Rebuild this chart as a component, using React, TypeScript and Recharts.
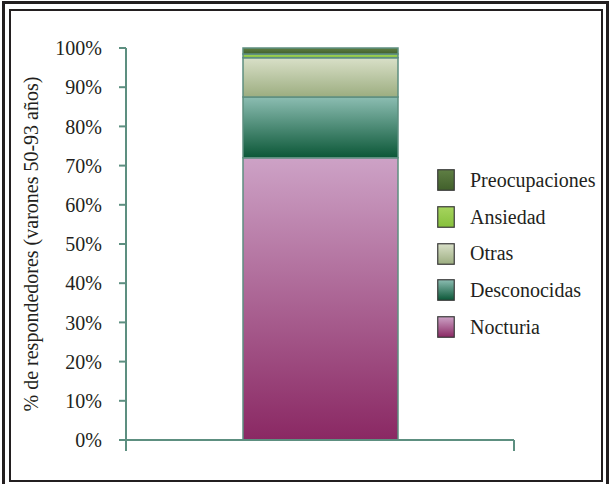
import { BarChart, Bar, XAxis, YAxis, Legend } from 'recharts'

const categories = ['Varones 50-93 años']
const nocturia = [72]
const desconocidas = [15.5]
const otras = [10]
const ansiedad = [1]
const preocupaciones = [1.5]
const yTicks = [0, 10, 20, 30, 40, 50, 60, 70, 80, 90, 100]
const yLabel = '% de respondedores (varones 50-93 años)'

const series = [
  { key: 'Nocturia', values: nocturia, top: '#cda2c6', bottom: '#8a2863' },
  { key: 'Desconocidas', values: desconocidas, top: '#8cbdb2', bottom: '#0b5737' },
  { key: 'Otras', values: otras, top: '#d9e0c8', bottom: '#9cad80' },
  { key: 'Ansiedad', values: ansiedad, top: '#a6d45e', bottom: '#86c03c' },
  { key: 'Preocupaciones', values: preocupaciones, top: '#5f7f44', bottom: '#41602b' },
]

// one slot per category on a numeric axis, so ticks sit on the slot edges (Excel style)
const data = categories.map((name, i) => {
  const row: Record<string, string | number> = { name, pos: i + 0.5 }
  series.forEach(s => { row[s.key] = s.values[i] })
  return row
})
const xEdges = [...categories.map((_, i) => i), categories.length]

const FONT = '"Liberation Serif", "Times New Roman", serif'
const INK = '#231f20'
const AXIS = '#5d8f80'
const gid = (k: string) => 'grad-' + k

function LegendBox() {
  const items = [...series].reverse()
  return (
    <div style={{ fontFamily: FONT, fontSize: 20, color: INK }}>
      {items.map(s => (
        <div key={s.key} style={{ display: 'flex', alignItems: 'center', height: 36.7 }}>
          <svg width={18} height={22} style={{ marginRight: 15 }}>
            <rect x={0.75} y={0.75} width={16.5} height={20.5} fill={`url(#${gid(s.key)})`} stroke="#3a3a3a" strokeWidth={1.2} />
          </svg>
          <span>{s.key}</span>
        </div>
      ))}
    </div>
  )
}

function YLabel({ viewBox }: any) {
  const x = viewBox.x + 38
  const y = viewBox.y + viewBox.height / 2
  return (
    <text x={x} y={y} transform={`rotate(-90, ${x}, ${y})`} textAnchor="middle" fill={INK} fontFamily={FONT} fontSize={20}>
      {yLabel}
    </text>
  )
}

export default function App() {
  return (
    <div style={{ position: 'absolute', left: 0, top: 0, width: 609, height: 484, background: '#fff', overflow: 'hidden' }}>
      <div style={{ position: 'absolute', left: 2, top: 1, width: 607, height: 487, border: '3px solid #231f20', boxSizing: 'border-box' }} />
      <div style={{ position: 'absolute', left: 9, top: 9, width: 594, height: 473, border: '2.5px solid #231f20', boxSizing: 'border-box' }} />
      <div style={{ position: 'absolute', left: 0, top: 0 }}>
        <BarChart width={609} height={484} data={data} margin={{ top: 48, right: 95, left: 0, bottom: 33 }}>
          <defs>
            {series.map(s => (
              <linearGradient key={s.key} id={gid(s.key)} x1="0" y1="0" x2="0" y2="1">
                <stop offset="0%" stopColor={s.top} />
                <stop offset="100%" stopColor={s.bottom} />
              </linearGradient>
            ))}
          </defs>
          <XAxis
            dataKey="pos"
            type="number"
            domain={[0, categories.length]}
            ticks={xEdges}
            interval={0}
            height={11}
            tickSize={11}
            tickFormatter={() => ''}
            axisLine={{ stroke: AXIS, strokeWidth: 2 }}
            tickLine={{ stroke: AXIS, strokeWidth: 2 }}
          />
          <YAxis
            width={126}
            domain={[0, 100]}
            ticks={yTicks}
            interval={0}
            tickFormatter={(v: number) => `${v}%`}
            tickSize={7}
            tickMargin={17}
            axisLine={{ stroke: AXIS, strokeWidth: 2 }}
            tickLine={{ stroke: AXIS, strokeWidth: 2 }}
            tick={{ fill: INK, fontFamily: FONT, fontSize: 20 }}
            label={<YLabel />}
          />
          {series.map(s => (
            <Bar
              key={s.key}
              dataKey={s.key}
              stackId="a"
              barSize={155}
              fill={`url(#${gid(s.key)})`}
              stroke={AXIS}
              strokeWidth={1.5}
              isAnimationActive={false}
            />
          ))}
          <Legend
            layout="vertical"
            align="center"
            verticalAlign="middle"
            content={<LegendBox />}
            wrapperStyle={{ left: 437, top: 162, width: 170 }}
          />
        </BarChart>
      </div>
    </div>
  )
}
